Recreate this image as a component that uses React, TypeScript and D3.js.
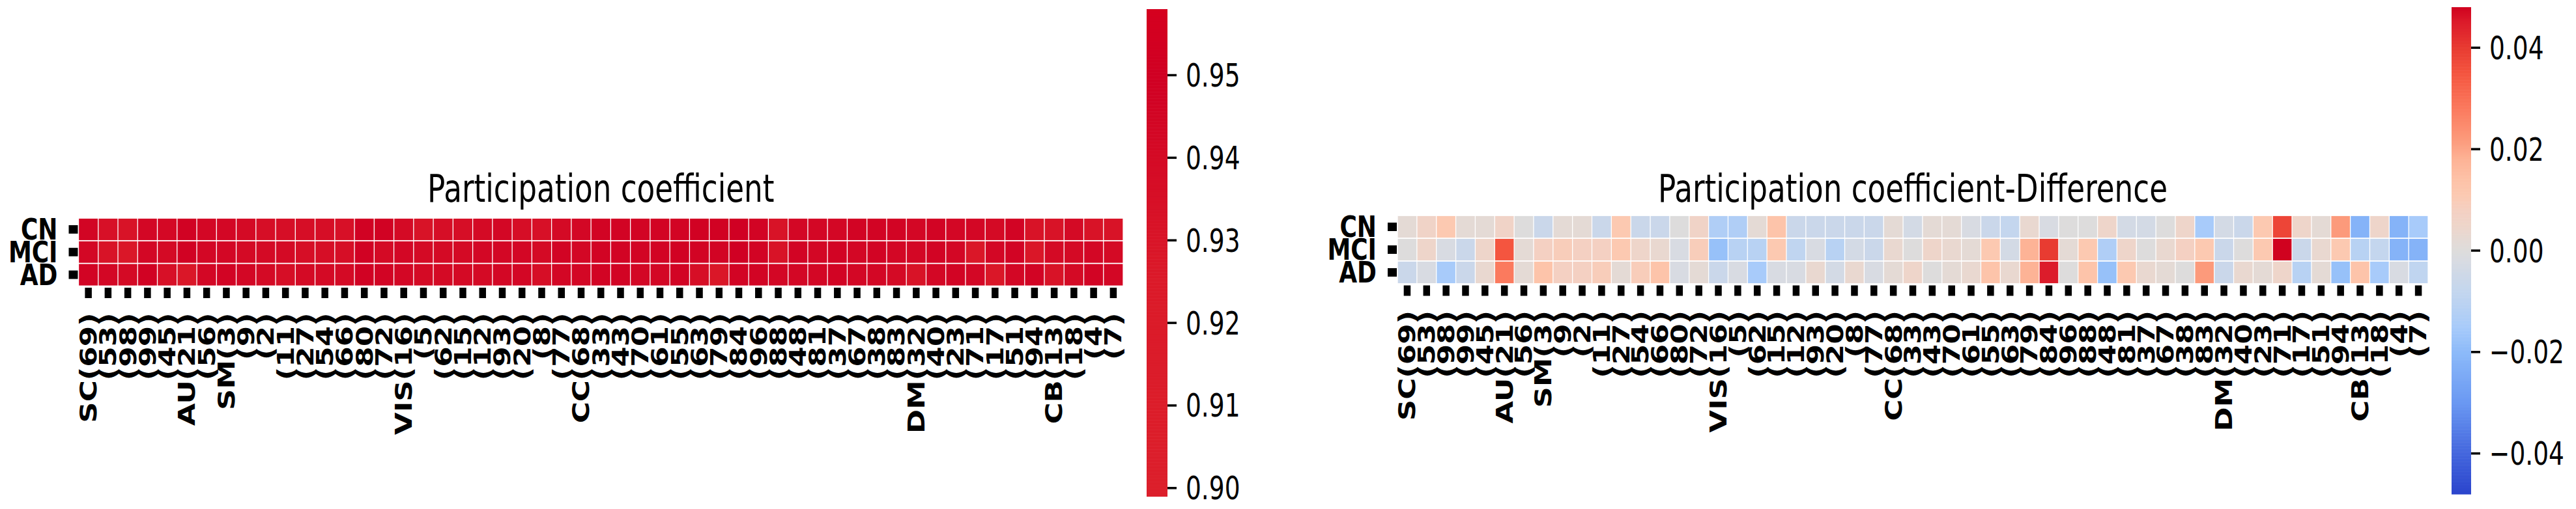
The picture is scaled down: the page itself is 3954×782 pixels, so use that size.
import React from 'react';
import * as d3 from 'd3';

const rowLabels = ['CN', 'MCI', 'AD'];
const colLabels = [
  'SC(69)', '(53)', '(98)', '(99)', '(45)', 'AU(21)', '(56)', 'SM(3)', '(9)', '(2)',
  '(11)', '(27)', '(54)', '(66)', '(80)', '(72)', 'VIS(16)', '(5)', '(62)', '(15)',
  '(12)', '(93)', '(20)', '(8)', '(77)', 'CC(68)', '(33)', '(43)', '(70)', '(61)',
  '(55)', '(63)', '(79)', '(84)', '(96)', '(88)', '(48)', '(81)', '(37)', '(67)',
  '(38)', '(83)', 'DM(32)', '(40)', '(23)', '(71)', '(17)', '(51)', '(94)', 'CB(13)',
  '(18)', '(4)', '(7)'
];

// Participation coefficient
const pcCN = [
  0.945, 0.935, 0.932, 0.943, 0.942, 0.948, 0.943, 0.943, 0.940, 0.937,
  0.937, 0.937, 0.937, 0.935, 0.948, 0.948, 0.940, 0.932, 0.937, 0.937,
  0.940, 0.943, 0.937, 0.935, 0.940, 0.943, 0.946, 0.946, 0.946, 0.946,
  0.946, 0.948, 0.948, 0.950, 0.946, 0.932, 0.943, 0.943, 0.943, 0.946,
  0.946, 0.946, 0.943, 0.946, 0.943, 0.943, 0.940, 0.946, 0.932, 0.932,
  0.940, 0.932, 0.932
];
const pcMCI = [
  0.943, 0.932, 0.928, 0.943, 0.940, 0.948, 0.943, 0.943, 0.940, 0.940,
  0.940, 0.937, 0.937, 0.937, 0.948, 0.940, 0.943, 0.940, 0.940, 0.940,
  0.943, 0.943, 0.943, 0.940, 0.946, 0.943, 0.946, 0.946, 0.946, 0.946,
  0.948, 0.946, 0.946, 0.950, 0.946, 0.932, 0.946, 0.943, 0.946, 0.943,
  0.946, 0.943, 0.943, 0.946, 0.943, 0.928, 0.943, 0.946, 0.928, 0.940,
  0.940, 0.943, 0.940
];
const pcAD = [
  0.946, 0.943, 0.940, 0.948, 0.935, 0.928, 0.943, 0.946, 0.943, 0.940,
  0.937, 0.940, 0.940, 0.940, 0.948, 0.946, 0.943, 0.940, 0.940, 0.940,
  0.940, 0.943, 0.943, 0.937, 0.943, 0.943, 0.946, 0.946, 0.943, 0.943,
  0.946, 0.937, 0.928, 0.946, 0.946, 0.943, 0.943, 0.943, 0.946, 0.943,
  0.943, 0.940, 0.932, 0.943, 0.946, 0.943, 0.928, 0.943, 0.946, 0.932,
  0.940, 0.946, 0.943
];

// Participation coefficient - Difference
const diffCN = [
  0.002, 0.006, 0.011, 0.002, 0.002, 0.006, 0.000, -0.006, 0.002, 0.002,
  -0.006, 0.011, -0.006, -0.006, 0.000, 0.006, -0.013, -0.013, 0.002, 0.013,
  -0.006, -0.006, -0.006, -0.006, -0.006, 0.002, -0.0035, 0.002, 0.002, -0.002,
  -0.006, -0.008, 0.0035, -0.002, 0.000, 0.000, 0.005, -0.0035, -0.0035, 0.000,
  0.005, -0.015, -0.0035, -0.006, 0.011, 0.038, 0.005, 0.002, 0.022, -0.022,
  0.005, -0.022, -0.015
];
const diffMCI = [
  0.000, 0.005, -0.002, -0.006, 0.005, 0.035, 0.002, 0.008, 0.0095, 0.008,
  0.008, 0.011, 0.005, 0.0035, -0.002, 0.0095, -0.018, -0.011, -0.011, 0.011,
  -0.009, -0.002, -0.011, -0.0035, -0.006, 0.0035, 0.000, 0.005, 0.0035, 0.002,
  0.011, -0.0035, 0.018, 0.040, 0.002, 0.011, -0.013, 0.005, 0.000, 0.0035,
  0.008, 0.011, -0.006, 0.000, 0.011, 0.048, -0.006, 0.0035, 0.011, -0.011,
  -0.008, -0.022, -0.022
];
const diffAD = [
  -0.006, -0.002, -0.015, -0.006, 0.0035, 0.028, 0.002, 0.013, 0.008, 0.008,
  0.0095, 0.002, 0.0095, 0.013, -0.002, 0.002, -0.006, -0.002, -0.015, -0.002,
  -0.002, 0.0035, -0.0035, 0.0035, -0.002, 0.002, 0.005, 0.000, 0.002, 0.0035,
  0.013, 0.0035, 0.018, 0.045, 0.000, 0.013, -0.018, 0.011, 0.0035, 0.002,
  0.000, 0.022, -0.006, 0.0035, 0.002, 0.005, -0.011, 0.002, -0.018, 0.013,
  -0.015, -0.002, -0.009
];

const pcTicks = [0.90, 0.91, 0.92, 0.93, 0.94, 0.95];
const diffTicks = [-0.04, -0.02, 0.0, 0.02, 0.04];
const pcDomain = [0.899, 0.958];
const diffDomain = [-0.048, 0.048];

// colour maps (as seen in the picture)
const pcStops = [0.899, 0.925, 0.95, 0.958];
const pcColors = ['#dc1f2b', '#db1a29', '#d00023', '#d5001f'];
const diffStops = [
  -0.048, -0.04, -0.03, -0.02, -0.015, -0.012, -0.008, -0.005, -0.002, 0,
  0.002, 0.005, 0.008, 0.011, 0.014, 0.018, 0.022, 0.028, 0.035, 0.04, 0.045, 0.048
];
const diffColors = [
  '#2a44cc', '#4466dd', '#6a98f2', '#8cbaf9', '#a8cbfa', '#b4d0f4', '#c4d6ee', '#cdd8e8', '#d8dbe2', '#dddcdc',
  '#e4dad5', '#eed5ca', '#f4d0c2', '#fcc9b1', '#fdc2a7', '#fdb396', '#fc9a7b', '#fb7a5e', '#f4553f', '#e83b31', '#dc1c2b', '#d0021f'
];

const FONT = 'DejaVu Sans';
const SX = 0.8;

type HMProps = {
  x0: number; x1: number; y0: number; y1: number;
  data: number[][];
  color: (v: number) => string;
  title: string;
  cb: { x0: number; x1: number; y0: number; y1: number };
  domain: number[];
  ticks: number[];
  fmt: (v: number) => string;
};

function Heatmap({ x0, x1, y0, y1, data, color, title, cb, domain, ticks, fmt }: HMProps) {
  const xs = d3.scaleBand<string>().domain(colLabels).range([x0, x1]);
  const ys = d3.scaleBand<string>().domain(rowLabels).range([y0, y1]);
  const cbs = d3.scaleLinear().domain(domain).range([cb.y1, cb.y0]);
  const bw = xs.bandwidth();
  const bh = ys.bandwidth();
  const gx = 1.3, gy = 1.8;
  const N = 300;
  const steps = d3.range(N).map(i => domain[0] + (i + 0.5) / N * (domain[1] - domain[0]));
  const stepH = (cb.y1 - cb.y0) / N;
  return (
    <g>
      <text
        transform={`translate(${(x0 + x1) / 2},310) scale(0.78,1)`}
        textAnchor="middle"
        fontFamily={FONT}
        fontSize={58}
        fill="#000"
      >{title}</text>
      {rowLabels.map((r, ri) =>
        colLabels.map((c, ci) => (
          <rect
            key={r + ci}
            x={(xs(c) as number) + gx / 2}
            y={(ys(r) as number) + gy / 2}
            width={bw - gx}
            height={bh - gy}
            fill={color(data[ri][ci])}
          />
        ))
      )}
      {rowLabels.map(r => {
        const cy = (ys(r) as number) + bh / 2;
        return (
          <g key={r}>
            <rect x={x0 - 15} y={cy - 6.5} width={14} height={13} fill="#000" />
            <text
              transform={`translate(${x0 - 32},${cy}) scale(${SX},1)`}
              textAnchor="end"
              dominantBaseline="central"
              fontFamily={FONT}
              fontWeight="bold"
              fontSize={45}
            >{r}</text>
          </g>
        );
      })}
      {colLabels.map(c => {
        const cx = (xs(c) as number) + bw / 2;
        return (
          <g key={c}>
            <rect x={cx - 5.25} y={y1 + 2.5} width={10.5} height={16} fill="#000" />
            <text
              transform={`translate(${cx},${y1 + 41}) scale(${SX},1) rotate(-90)`}
              textAnchor="end"
              dominantBaseline="central"
              fontFamily={FONT}
              fontWeight="bold"
              fontSize={45}
            >{c}</text>
          </g>
        );
      })}
      {steps.map((v, i) => (
        <rect
          key={i}
          x={cb.x0}
          y={cb.y1 - (i + 1) * stepH}
          width={cb.x1 - cb.x0}
          height={stepH + 0.6}
          fill={color(v)}
        />
      ))}
      {ticks.map(t => (
        <g key={t}>
          <line x1={cb.x1} x2={cb.x1 + 14} y1={cbs(t)} y2={cbs(t)} stroke="#000" strokeWidth={3.5} />
          <text
            transform={`translate(${cb.x1 + 28},${cbs(t)}) scale(0.75,1)`}
            dominantBaseline="central"
            fontFamily={FONT}
            fontSize={50}
          >{fmt(t)}</text>
        </g>
      ))}
    </g>
  );
}

export default function App() {
  const pcColor = d3.scaleLinear<string>().domain(pcStops).range(pcColors)
    .interpolate(d3.interpolateRgb).clamp(true);
  const diffColor = d3.scaleLinear<string>().domain(diffStops).range(diffColors)
    .interpolate(d3.interpolateRgb).clamp(true);
  const fmtPc = (v: number) => v.toFixed(2);
  const fmtDiff = (v: number) => (v < -1e-9 ? '\u2212' : '') + Math.abs(v).toFixed(2);
  return (
    <svg
      width={3954}
      height={782}
      style={{ position: 'absolute', left: 0, top: 0, background: '#fff' }}
    >
      <rect x={0} y={0} width={3954} height={782} fill="#fff" />
      <Heatmap
        x0={120.5} x1={1724} y0={335} y1={439.5}
        data={[pcCN, pcMCI, pcAD]}
        color={pcColor}
        title="Participation coefficient"
        cb={{ x0: 1760, x1: 1792, y0: 14, y1: 762.5 }}
        domain={pcDomain}
        ticks={pcTicks}
        fmt={fmtPc}
      />
      <Heatmap
        x0={2145} x1={3727} y0={331} y1={436}
        data={[diffCN, diffMCI, diffAD]}
        color={diffColor}
        title="Participation coefficient-Difference"
        cb={{ x0: 3763, x1: 3793, y0: 11, y1: 759 }}
        domain={diffDomain}
        ticks={diffTicks}
        fmt={fmtDiff}
      />
    </svg>
  );
}
